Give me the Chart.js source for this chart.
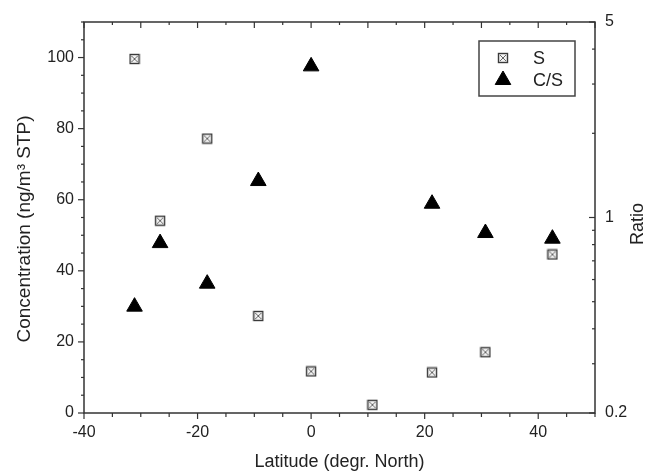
<!DOCTYPE html>
<html>
<head>
<meta charset="utf-8">
<script src="https://cdn.jsdelivr.net/npm/chart.js@4/dist/chart.umd.min.js"></script>
<style>
  html, body { margin: 0; padding: 0; background: #fff; }
</style>
</head>
<body>
<canvas id="chart" width="649" height="473"></canvas>
<script>
// ===== Data =====
const latS = [-31.1, -26.6, -18.3, -9.3, 0, 10.8, 21.3, 30.7, 42.5];
const concS = [99.6, 54.1, 77.2, 27.3, 11.7, 2.3, 11.4, 17.1, 44.6];

const latCS = [-31.1, -26.6, -18.3, -9.3, 0, 21.3, 30.7, 42.5];
const ratioCS = [0.48, 0.81, 0.58, 1.35, 3.47, 1.12, 0.88, 0.84];

const xTicks = [-40, -20, 0, 20, 40];
const yTicks = [0, 20, 40, 60, 80, 100];
const ratioTicks = [0.2, 1, 5];
const ratioMinor = [0.3, 0.4, 0.5, 0.6, 0.7, 0.8, 0.9, 2, 3, 4];

const FONT = "'Liberation Sans', Arial, sans-serif";
const INK = '#222';
const AXIS = '#333';

// square-with-cross marker used for S
const boxMarker = (() => {
  const c = document.createElement('canvas');
  c.width = 12; c.height = 12;
  const g = c.getContext('2d');
  g.fillStyle = '#f4f4f4';
  g.fillRect(1, 1, 10, 10);
  g.strokeStyle = '#3a3a3a';
  g.lineWidth = 1.4;
  g.strokeRect(1.5, 1.5, 9, 9);
  g.strokeStyle = '#666';
  g.lineWidth = 1;
  g.beginPath();
  g.moveTo(3, 3); g.lineTo(9, 9);
  g.moveTo(9, 3); g.lineTo(3, 9);
  g.stroke();
  return c;
})();

// frame, inward/outward ticks, y titles and boxed legend
const framePlugin = {
  id: 'frame',
  afterDraw(chart) {
    const { ctx, chartArea: a, scales } = chart;
    ctx.save();
    ctx.strokeStyle = AXIS;
    ctx.lineWidth = 1.5;
    ctx.strokeRect(a.left, a.top, a.right - a.left, a.bottom - a.top);

    ctx.lineWidth = 1.2;
    const tick = (x1, y1, x2, y2) => {
      ctx.beginPath(); ctx.moveTo(x1, y1); ctx.lineTo(x2, y2); ctx.stroke();
    };

    for (let v = -40; v <= 50; v += 5) {
      const px = scales.x.getPixelForValue(v);
      tick(px, a.bottom, px, a.bottom + (v % 20 === 0 ? 6 : 4));
      tick(px, a.top, px, a.top + (v % 10 === 0 ? 6 : 3));
    }
    for (let v = 0; v <= 110; v += 5) {
      const py = scales.y.getPixelForValue(v);
      const len = v % 20 === 0 ? 6 : 3;
      tick(a.left - len, py, a.left, py);
    }
    ratioTicks.concat(ratioMinor).forEach(v => {
      const py = scales.y2.getPixelForValue(v);
      const len = ratioTicks.includes(v) ? 6 : 3;
      tick(a.right - len, py, a.right, py);
    });

    // both y titles read bottom to top
    ctx.fillStyle = INK;
    ctx.textAlign = 'center';
    ctx.textBaseline = 'middle';
    const vTitle = (text, x, y, size) => {
      ctx.save();
      ctx.font = size + 'px ' + FONT;
      ctx.translate(x, y);
      ctx.rotate(-Math.PI / 2);
      ctx.fillText(text, 0, 0);
      ctx.restore();
    };
    vTitle('Concentration (ng/m³ STP)', 25, 229, 19);
    vTitle('Ratio', 638, 224, 18);

    // legend box
    const lx = 479, ly = 41, lw = 96, lh = 55;
    ctx.font = '18px ' + FONT;
    ctx.strokeStyle = '#444';
    ctx.lineWidth = 1.5;
    ctx.strokeRect(lx, ly, lw, lh);
    chart.data.datasets.forEach((ds, i) => {
      const y = ly + 17 + i * 22;
      ctx.fillStyle = ds.backgroundColor;
      ctx.strokeStyle = ds.borderColor;
      ctx.lineWidth = ds.borderWidth;
      Chart.helpers.drawPoint(ctx, {
        pointStyle: ds.pointStyle, radius: ds.pointRadius,
        borderWidth: ds.borderWidth, rotation: 0
      }, lx + 24, y);
      ctx.fillStyle = INK;
      ctx.textAlign = 'left';
      ctx.fillText(ds.label, lx + 54, y + 1);
    });
    ctx.restore();
  }
};

new Chart(document.getElementById('chart'), {
  type: 'scatter',
  data: {
    datasets: [
      {
        label: 'S',
        data: latS.map((x, i) => ({ x, y: concS[i] })),
        yAxisID: 'y',
        pointStyle: boxMarker,
        pointRadius: 6,
        backgroundColor: '#fff',
        borderColor: '#444',
        borderWidth: 1
      },
      {
        label: 'C/S',
        data: latCS.map((x, i) => ({ x, y: ratioCS[i] })),
        yAxisID: 'y2',
        pointStyle: 'triangle',
        pointRadius: 9,
        backgroundColor: '#000',
        borderColor: '#000',
        borderWidth: 1
      }
    ]
  },
  options: {
    responsive: false,
    animation: false,
    layout: { padding: { top: 22, left: 0, right: 0, bottom: 0 } },
    plugins: {
      legend: { display: false },
      tooltip: { enabled: false }
    },
    scales: {
      x: {
        type: 'linear',
        min: -40,
        max: 50,
        afterBuildTicks: s => { s.ticks = xTicks.map(v => ({ value: v })); },
        afterFit: s => { s.height = 60; },
        grid: { display: false, drawTicks: false },
        border: { display: false },
        ticks: { padding: 10, color: INK, font: { family: FONT, size: 16 } },
        title: {
          display: true,
          text: 'Latitude (degr. North)',
          color: INK,
          font: { family: FONT, size: 18 },
          padding: { top: 0, bottom: 0 }
        }
      },
      y: {
        type: 'linear',
        position: 'left',
        min: 0,
        max: 110,
        afterBuildTicks: s => { s.ticks = yTicks.map(v => ({ value: v })); },
        afterFit: s => { s.width = 84; },
        grid: { display: false, drawTicks: false },
        border: { display: false },
        ticks: { padding: 10, color: INK, font: { family: FONT, size: 16 } }
      },
      y2: {
        type: 'logarithmic',
        position: 'right',
        min: 0.2,
        max: 5,
        afterBuildTicks: s => { s.ticks = ratioTicks.map(v => ({ value: v })); },
        afterFit: s => { s.width = 54; },
        grid: { display: false, drawTicks: false },
        border: { display: false },
        ticks: {
          padding: 10, color: INK, font: { family: FONT, size: 16 },
          callback: v => String(v)
        }
      }
    }
  },
  plugins: [framePlugin]
});
</script>
</body>
</html>
